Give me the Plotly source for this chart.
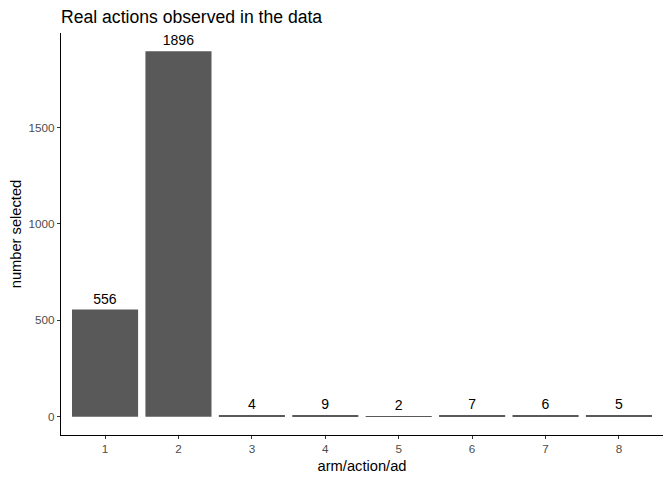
import plotly.graph_objects as go

# arms and how often each one was chosen
arms = [1, 2, 3, 4, 5, 6, 7, 8]
n_selected = [556, 1896, 4, 9, 2, 7, 6, 5]
y_ticks = [0, 500, 1000, 1500]

fig = go.Figure(go.Bar(
    x=arms,
    y=n_selected,
    text=[str(v) for v in n_selected],
    textposition="outside",
    textfont=dict(family="Liberation Sans, Arial", size=14, color="black"),
    constraintext="none",
    cliponaxis=False,
    marker=dict(color="#595959", line=dict(width=0)),
    width=0.9,
))

# page has an 8px body margin, so the margins below are shifted by that
fig.update_layout(
    width=672, height=480,
    margin=dict(l=53, r=17, t=25, b=53),
    plot_bgcolor="white", paper_bgcolor="white",
    font=dict(family="Liberation Sans, Arial", color="black"),
    title=dict(text="Real actions observed in the data", x=53 / 672, xanchor="left",
               y=1 - 9 / 480, yanchor="middle",
               font=dict(size=17.6, color="black")),
    showlegend=False,
)

fig.update_xaxes(
    range=[0.4, 8.6], tickvals=arms, ticktext=[str(a) for a in arms],
    showgrid=False, zeroline=False, automargin=False,
    showline=True, linecolor="black", linewidth=1.1,
    ticks="outside", ticklen=3, tickcolor="#333333",
    tickfont=dict(size=11.7, color="#4D4D4D"),
    title=dict(text="arm/action/ad", font=dict(size=14.7, color="black"), standoff=6),
)
fig.update_yaxes(
    range=[-94.8, 1990.8], tickvals=y_ticks, ticktext=[str(t) for t in y_ticks],
    showgrid=False, zeroline=False, automargin=False,
    showline=True, linecolor="black", linewidth=1.1,
    ticks="outside", ticklen=3, tickcolor="#333333",
    tickfont=dict(size=11.7, color="#4D4D4D"),
    title=dict(text="number selected", font=dict(size=14.7, color="black"), standoff=4),
)

fig.write_html("out.html")
